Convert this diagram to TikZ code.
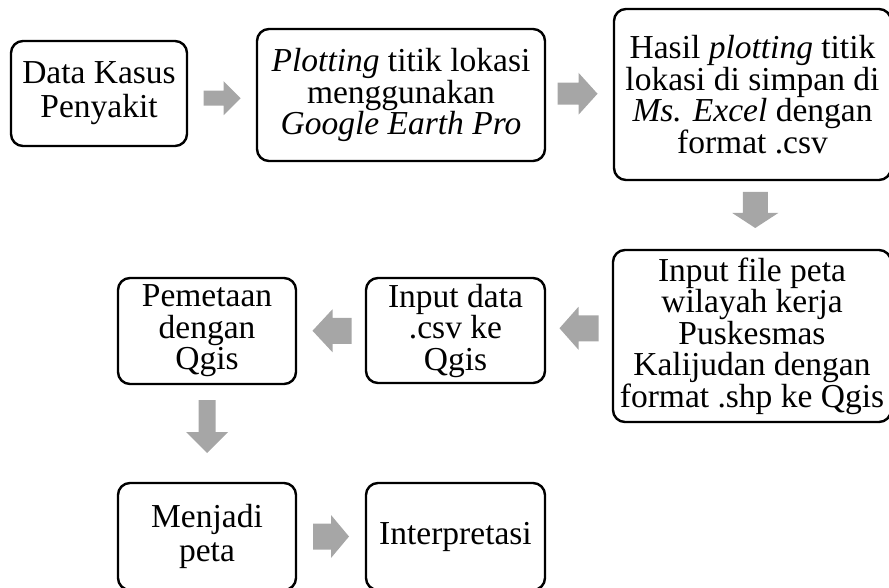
\documentclass[tikz,border=0pt]{standalone}
\usepackage{fontspec}
\setmainfont{Liberation Serif}
\usetikzlibrary{calc}
\definecolor{arrowgray}{RGB}{166,166,166}
\newcommand\blockarr[6]{% #1 coord name, #2 rotation, #3 length, #4 body half, #5 head half, #6 head length
  \fill[arrowgray,shift={(#1)},rotate=#2]
    (-#3/2,-#4) -- (#3/2-#6,-#4) -- (#3/2-#6,-#5) -- (#3/2,0) -- (#3/2-#6,#5) -- (#3/2-#6,#4) -- (-#3/2,#4) -- cycle;}
\tikzset{
  box/.style={draw=black, line width=2.4pt, rounded corners=12pt, align=center,
    inner sep=0pt, font=\fontsize{33.5}{31.5}\selectfont, text=black},
}
\begin{document}
\begin{tikzpicture}[x=1pt,y=-1pt]
\useasboundingbox (0,0) rectangle (889,588);
\node[box, minimum width=176pt, minimum height=105pt, font=\fontsize{33.5}{34}\selectfont] (b1) at (99,93.5) {Data Kasus\\Penyakit};
\node[box, minimum width=288pt, minimum height=132pt] (b2) at (401,95) {\textit{Plotting} titik lokasi\\menggunakan\\\textit{Google Earth Pro}};
\node[box, minimum width=277pt, minimum height=171pt] (b3) at (752.5,94.5) {Hasil \textit{plotting} titik\\lokasi di simpan di\\\textit{Ms. Excel} dengan\\format .csv};
\node[box, minimum width=278pt, minimum height=172pt] (b4) at (752,336) {Input file peta\\wilayah kerja\\Puskesmas\\Kalijudan dengan\\format .shp ke Qgis};
\node[box, minimum width=179pt, minimum height=105pt] (b5) at (455.5,330.5) {Input data\\.csv ke\\Qgis};
\node[box, minimum width=178pt, minimum height=106pt] (b6) at (207,331) {Pemetaan\\dengan\\Qgis};
\node[box, minimum width=178pt, minimum height=107pt, font=\fontsize{33.5}{34}\selectfont] (b7) at (207,536.5) {Menjadi\\peta};
\node[box, minimum width=179pt, minimum height=107pt] (b8) at (455.5,536.5) {Interpretasi};
\coordinate (m1) at ($(b1.east)!0.5!(b2.west)+(0,4)$);
\coordinate (m2) at ($(b2.east)!0.5!(b3.west)+(-2,-1)$);
\coordinate (m3) at ($(b3.south)!0.5!(b4.north)+(3,-5)$);
\coordinate (m4) at ($(b4.west)!0.5!(b5.east)+(0,-5)$);
\coordinate (m5) at ($(b5.west)!0.5!(b6.east)+(1,0)$);
\coordinate (m6) at ($(b6.south)!0.5!(b7.north)+(0,-7)$);
\coordinate (m7) at ($(b7.east)!0.5!(b8.west)+(0,0)$);
\blockarr{m1}{0}{37}{7.5}{17}{17}
\blockarr{m2}{0}{40}{11}{21}{19}
\blockarr{m3}{-90}{36}{12.5}{23}{15}
\blockarr{m4}{180}{39}{13}{21.5}{19}
\blockarr{m5}{180}{39}{13}{21.5}{20}
\blockarr{m6}{-90}{53}{8.5}{21}{21}
\blockarr{m7}{0}{36}{13}{21.5}{18}
\end{tikzpicture}
\end{document}
